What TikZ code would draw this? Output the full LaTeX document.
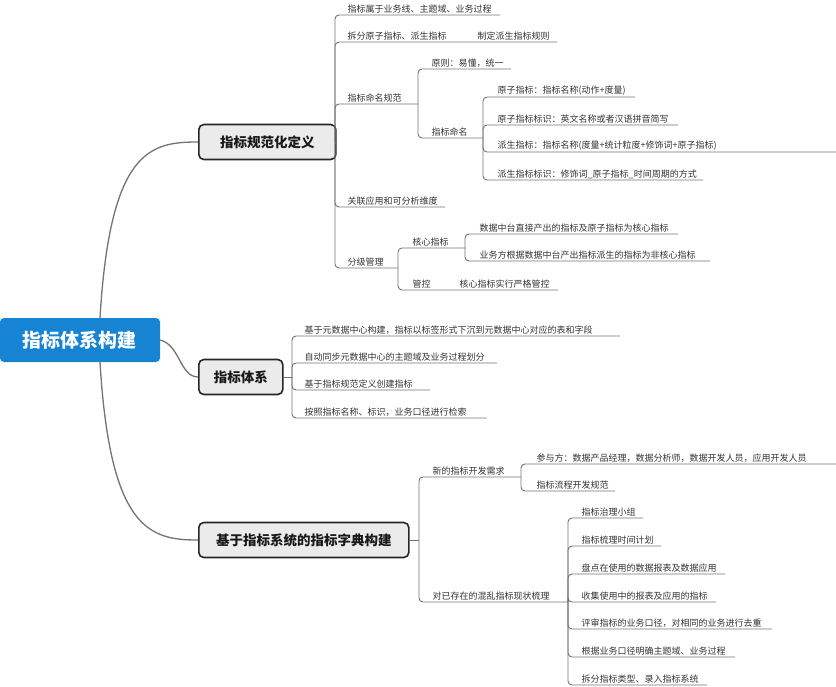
\documentclass[tikz,border=0pt]{standalone}
\usepackage{fontspec}
\setmainfont{Noto Sans CJK SC}
\definecolor{rootblue}{HTML}{1784D3}
\begin{document}
\begin{tikzpicture}[x=1pt,y=-1pt,
  ln/.style={draw=black!55,line width=0.9pt,rounded corners=4pt},
  lf/.style={anchor=south west,inner sep=1.5pt,text=black!80,font=\fontsize{9}{10}\selectfont},
  lvl/.style={draw=black!85,line width=1.6pt,fill=black!8,rounded corners=5pt,text=black!90,font=\fontsize{13.5}{15}\selectfont\bfseries,minimum height=35pt,inner xsep=4pt},
  rootbox/.style={fill=rootblue,rounded corners=4pt,text=white,font=\fontsize{19}{21}\selectfont\bfseries,minimum width=160pt,minimum height=44pt}]
\useasboundingbox (0,0) rectangle (836,686);
\node[rootbox] (root) at (80,340) {指标体系构建};
\node[lvl,anchor=west,minimum width=137pt] (b1) at (198,142) {指标规范化定义};
\node[lvl,anchor=west,minimum width=84pt] (b2) at (198,377) {指标体系};
\node[lvl,anchor=west,minimum width=210pt] (b3) at (198,540) {基于指标系统的指标字典构建};
\draw[draw=black!55,line width=1.3pt] (100,318) .. controls (110,150) and (150,142) .. (b1.west);
\draw[draw=black!55,line width=1.3pt] (root.east) .. controls (180,345) and (180,377) .. (b2.west);
\draw[draw=black!55,line width=1.3pt] (100,362) .. controls (110,530) and (150,540) .. (b3.west);
% branch 1
\draw[ln] (b1.east) -- (335,142);
\node[lf] (a1) at (346,15) {指标属于业务线、主题域、业务过程};
\draw[ln] (335,142) |- (500,15);
\node[lf] (a2) at (346,42) {拆分原子指标、派生指标};
\node[lf] (a2a) at (476,42) {制定派生指标规则};
\draw[ln] (335,142) |- (557,42);
\node[lf] (a3) at (346,104) {指标命名规范};
\draw[ln] (335,142) |- (418,104);
\node[lf] (a31) at (430,69) {原则：易懂，统一};
\draw[ln] (418,104) |- (511,69);
\node[lf] (a32) at (430,138) {指标命名};
\draw[ln] (418,104) |- (483,138);
\node[lf] (c1) at (496,97) {原子指标：指标名称(动作+度量)};
\draw[ln] (483,138) |- (635,97);
\node[lf] (c2) at (496,125) {原子指标标识：英文名称或者汉语拼音简写};
\draw[ln] (483,138) |- (678,125);
\node[lf] (c3) at (496,152) {派生指标：指标名称(度量+统计粒度+修饰词+原子指标)};
\draw[ln] (483,138) |- (836,152);
\node[lf] (c4) at (496,180) {派生指标标识：修饰词\_原子指标\_时间周期的方式};
\draw[ln] (483,138) |- (703,180);
\node[lf] (a4) at (346,207) {关联应用和可分析维度};
\draw[ln] (335,142) |- (445,207);
\node[lf] (a5) at (346,268) {分级管理};
\draw[ln] (335,142) |- (398,268);
\node[lf] (a51) at (411,248) {核心指标};
\draw[ln] (398,268) |- (465,248);
\node[lf] (d1) at (478,234) {数据中台直接产出的指标及原子指标为核心指标};
\draw[ln] (465,248) |- (678,234);
\node[lf] (d2) at (478,261) {业务方根据数据中台产出指标派生的指标为非核心指标};
\draw[ln] (465,248) |- (710,261);
\node[lf] (a52) at (411,290) {管控};
\node[lf] (a52a) at (458,290) {核心指标实行严格管控};
\draw[ln] (398,268) |- (558,290);
% branch 2
\draw[ln] (b2.east) -- (292,377);
\node[lf] (e1) at (303,336) {基于元数据中心构建，指标以标签形式下沉到元数据中心对应的表和字段};
\draw[ln] (292,377) |- (620,336);
\node[lf] (e2) at (303,363) {自动同步元数据中心的主题域及业务过程划分};
\draw[ln] (292,377) |- (497,363);
\node[lf] (e3) at (303,390) {基于指标规范定义创建指标};
\draw[ln] (292,377) |- (430,390);
\node[lf] (e4) at (303,418) {按照指标名称、标识，业务口径进行检索};
\draw[ln] (292,377) |- (487,418);
% branch 3
\draw[ln] (b3.east) -- (419,540);
\node[lf] (f1) at (431,477) {新的指标开发需求};
\draw[ln] (419,540) |- (521,477);
\node[lf] (g1) at (535,464) {参与方：数据产品经理，数据分析师，数据开发人员，应用开发人员};
\draw[ln] (521,477) |- (836,464);
\node[lf] (g2) at (535,491) {指标流程开发规范};
\draw[ln] (521,477) |- (615,491);
\node[lf] (f2) at (431,602) {对已存在的混乱指标现状梳理};
\draw[ln] (419,540) |- (568,602);
\node[lf] (h1) at (580,518) {指标治理小组};
\draw[ln] (568,602) |- (643,518);
\node[lf] (h2) at (580,546) {指标梳理时间计划};
\draw[ln] (568,602) |- (661,546);
\node[lf] (h3) at (580,574) {盘点在使用的数据报表及数据应用};
\draw[ln] (568,602) |- (725,574);
\node[lf] (h4) at (580,602) {收集使用中的报表及应用的指标};
\draw[ln] (568,602) |- (716,602);
\node[lf] (h5) at (580,629) {评审指标的业务口径，对相同的业务进行去重};
\draw[ln] (568,602) |- (772,629);
\node[lf] (h6) at (580,657) {根据业务口径明确主题域、业务过程};
\draw[ln] (568,602) |- (735,657);
\node[lf] (h7) at (580,685) {拆分指标类型、录入指标系统};
\draw[ln] (568,602) |- (707,685);
\end{tikzpicture}
\end{document}
